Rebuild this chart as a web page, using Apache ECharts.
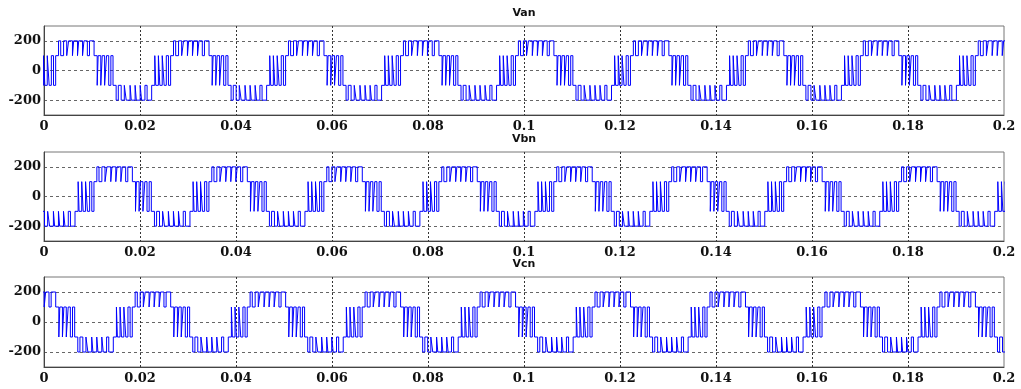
<!DOCTYPE html>
<html><head><meta charset="utf-8">
<script src="https://cdn.jsdelivr.net/npm/echarts@6/dist/echarts.min.js"></script>
<style>html,body{margin:0;padding:0;background:#fff}#c{width:1021px;height:389px}</style>
</head><body><div id="c"></div>
<script>
// ---- data ----
const SERIES_NAMES = ['Van', 'Vbn', 'Vcn'];
// fundamental period measured from the spacing of the +200 bands (about 115 px per cycle)
const PERIOD_S = 0.02395;
// start of the first +200 band of each phase (Vbn, Vcn lag Van by 1/3 and 2/3 of a period)
const CYCLE_START_S = [0.00303, 0.01101, 0.01899];
// switching pattern of one cycle: time from cycle start (ms) -> new level (V)
const EDGE_MS = [
  0.00, 0.45, 1.05, 1.70, 2.10, 2.90, 3.15, 3.95, 4.20, 5.00, 5.30, 6.00, 6.45, 7.40,
  8.05, 8.25, 8.80, 9.10, 9.60, 10.00, 10.45, 10.90, 11.35,
  12.00, 12.45, 13.05, 13.70, 14.10, 14.90, 15.15, 15.95, 16.20, 17.00, 17.30, 18.00, 18.45, 19.40,
  20.05, 20.25, 20.80, 21.10, 21.60, 22.00, 22.45, 22.90, 23.35
];
const EDGE_LEVEL = [
  200, 100, 200, 100, 200, 100, 200, 100, 200, 100, 200, 100, 200, 100,
  -100, 100, -100, 100, -100, 100, -100, 100, -100,
  -200, -100, -200, -100, -200, -100, -200, -100, -200, -100, -200, -100, -200, -100,
  100, -100, 100, -100, 100, -100, 100, -100, 100
];
const X_TICKS = [0, 0.02, 0.04, 0.06, 0.08, 0.1, 0.12, 0.14, 0.16, 0.18, 0.2];
const Y_TICKS = [-200, 0, 200];

// ---- build the step series (the read cycle pattern repeated over the 0..0.2 s window) ----
function buildSeries(start) {
  const pts = [];
  for (let k = -2; k <= 10; k++) {
    for (let i = 0; i < EDGE_MS.length; i++) {
      const t = start + k * PERIOD_S + EDGE_MS[i] / 1000;
      if (t > -0.03 && t < 0.23) pts.push([t, EDGE_LEVEL[i]]);
    }
  }
  return pts;
}

const GRIDS = [
  {top: 26, height: 89, titleY: 8},
  {top: 152, height: 89, titleY: 134},
  {top: 277, height: 90, titleY: 259}
];

const labelFont = {fontFamily: 'DejaVu Serif', fontWeight: 'bold', fontSize: 13, color: '#111'};
const isTick = (arr, v) => arr.some(t => Math.abs(t - v) < 1e-9);

const option = {
  animation: false,
  backgroundColor: '#fff',
  grid: GRIDS.map(g => ({left: 44, right: 17, top: g.top, height: g.height, show: true,
    borderColor: '#777', borderWidth: 1, backgroundColor: 'transparent'})),
  xAxis: GRIDS.map((g, i) => ({
    gridIndex: i, type: 'value', min: 0, max: 0.2, interval: 0.02,
    axisLine: {show: true, onZero: false, lineStyle: {color: '#444'}},
    axisTick: {show: false},
    axisLabel: Object.assign({margin: 5, showMinLabel: true, showMaxLabel: true,
      formatter: v => isTick(X_TICKS, v) ? String(+v.toFixed(2)) : ''}, labelFont),
    splitLine: {show: true, showMinLine: false, showMaxLine: false,
      lineStyle: {color: '#333', type: [2, 2], width: 1}}
  })),
  yAxis: GRIDS.map((g, i) => ({
    gridIndex: i, type: 'value', min: -300, max: 300, interval: 100,
    axisLine: {show: true, onZero: false, lineStyle: {color: '#444'}},
    axisTick: {show: false},
    axisLabel: Object.assign({margin: 3,
      formatter: v => isTick(Y_TICKS, v) ? String(v) : ''}, labelFont),
    splitLine: {show: true,
      lineStyle: {color: ['rgba(0,0,0,0)', '#666'], type: [3, 3], width: 1}}
  })),
  graphic: GRIDS.map((g, i) => ({
    type: 'text', x: 524, y: g.titleY, silent: true,
    style: {text: SERIES_NAMES[i], align: 'center', verticalAlign: 'top',
      font: 'bold 11px "DejaVu Sans"', fill: '#111'}
  })),
  series: SERIES_NAMES.map((name, i) => ({
    name, type: 'line', step: 'end', xAxisIndex: i, yAxisIndex: i,
    data: buildSeries(CYCLE_START_S[i]), showSymbol: false, symbol: 'none',
    clip: true, lineStyle: {color: '#0000ff', width: 1}
  }))
};

const chart = echarts.init(document.getElementById('c'), null, {renderer: 'canvas'});
chart.setOption(option);
</script>
</body></html>
